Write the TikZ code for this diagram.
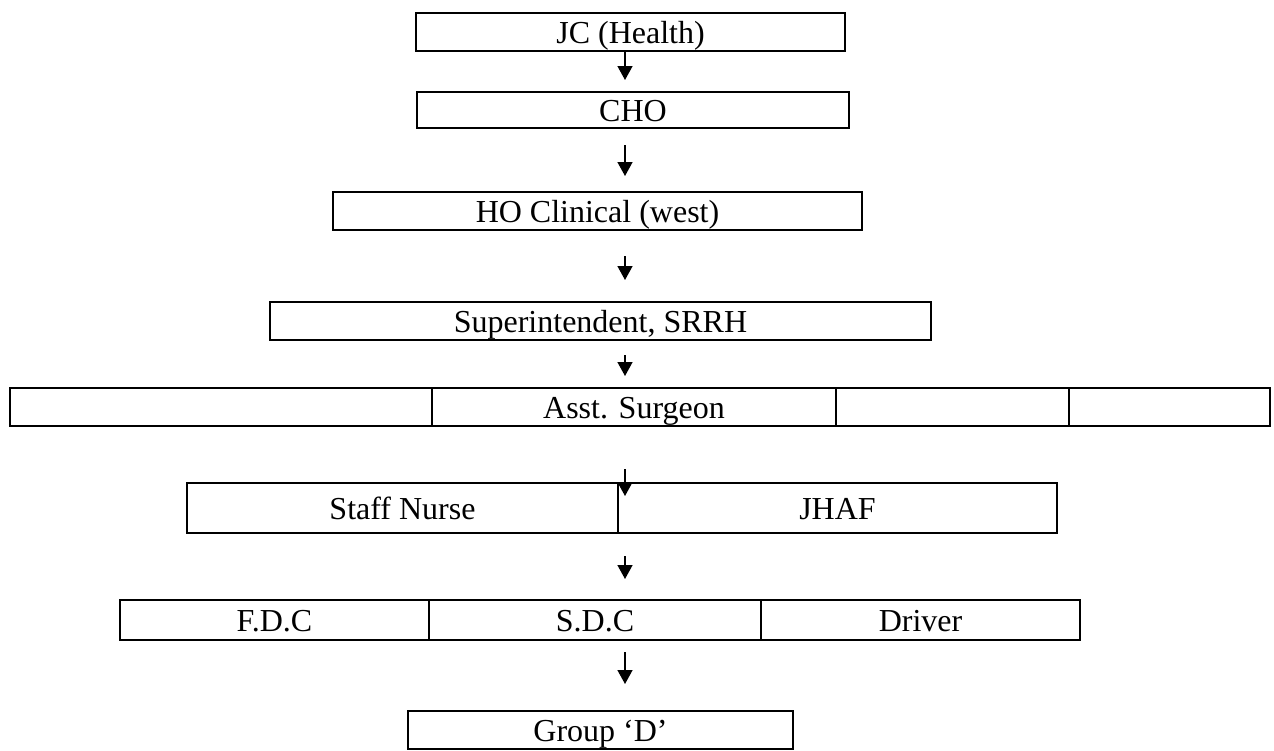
\documentclass[tikz,border=0pt]{standalone}
\usepackage{fontspec}
\setmainfont{Liberation Serif}
\usetikzlibrary{arrows.meta}
\begin{document}
\begin{tikzpicture}[x=0.5pt,y=-0.5pt,
  box/.style={draw,line width=0.8pt,rectangle,inner sep=0pt,text height=11.5pt,text depth=0pt,font=\fontsize{16}{18}\selectfont},
  arr/.style={line width=0.75pt,-{Triangle[length=7pt,width=7.5pt]}}]
\useasboundingbox (0,0) rectangle (1274,750);
% boxes given by left, top, right, bottom (px)
\newcommand{\bx}[6][]{\node[box,minimum width={(#4-#2)*0.5pt},minimum height={(#5-#3)*0.5pt}] (#6) at ({(#2+#4)/2},{(#3+#5)/2}) {#1};}
\bx[JC (Health)]{416}{13}{845}{51}{jc}
\bx[CHO]{417}{92}{849}{128}{cho}
\bx[HO Clinical (west)]{333}{192}{862}{230}{ho}
\bx[Superintendent, SRRH]{270}{302}{931}{340}{sup}
\bx{10}{388}{432}{426}{a1}
\bx[Asst. Surgeon]{432}{388}{836}{426}{a2}
\bx{836}{388}{1069}{426}{a3}
\bx{1069}{388}{1270}{426}{a4}
\bx[Staff Nurse]{187}{483}{618}{533}{sn}
\bx[JHAF]{618}{483}{1057}{533}{jh}
\bx[F.D.C]{120}{600}{429}{640}{fdc}
\bx[S.D.C]{429}{600}{761}{640}{sdc}
\bx[Driver]{761}{600}{1080}{640}{drv}
\bx[Group ‘D’]{408}{711}{793}{749}{grp}
% arrow end points
\coordinate (s1) at (625,50);  \coordinate (e1) at (625,80);
\coordinate (s2) at (625,145); \coordinate (e2) at (625,176);
\coordinate (s3) at (625,256); \coordinate (e3) at (625,280);
\coordinate (s4) at (625,355); \coordinate (e4) at (625,376);
\coordinate (s5) at (625,469); \coordinate (e5) at (625,496);
\coordinate (s6) at (625,556); \coordinate (e6) at (625,579);
\coordinate (s7) at (625,652); \coordinate (e7) at (625,684);
\draw[arr] (s1) -- (e1);
\draw[arr] (s2) -- (e2);
\draw[arr] (s3) -- (e3);
\draw[arr] (s4) -- (e4);
\draw[arr] (s5) -- (e5);
\draw[arr] (s6) -- (e6);
\draw[arr] (s7) -- (e7);
\end{tikzpicture}
\end{document}
